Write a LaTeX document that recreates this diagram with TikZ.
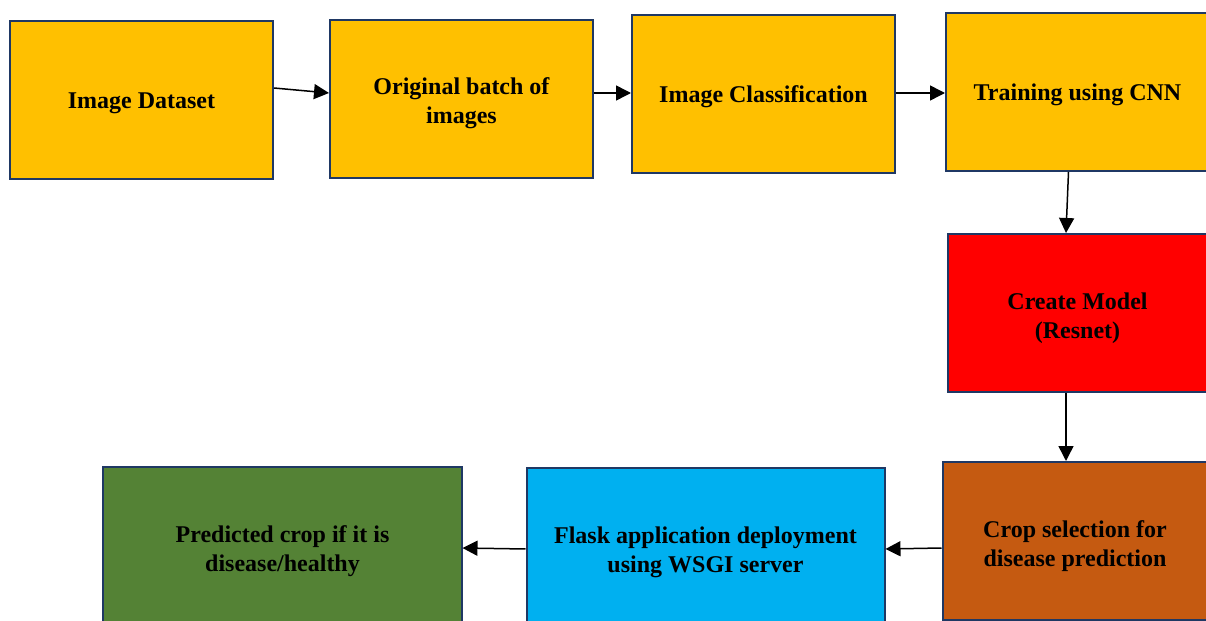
\documentclass[tikz,border=0pt]{standalone}
\usepackage{fontspec}
\setmainfont{Liberation Serif}
\usetikzlibrary{arrows.meta,positioning}

\definecolor{navy}{RGB}{31,56,100}
\definecolor{amber}{RGB}{255,192,0}
\definecolor{rust}{RGB}{197,90,17}
\definecolor{sky}{RGB}{0,176,240}
\definecolor{leaf}{RGB}{84,130,53}

\begin{document}
\begin{tikzpicture}[node distance=28pt]

\tikzstyle{box} = [rectangle, inner sep=0pt, text centered, align=center, text depth=0pt, execute at begin node={\rule{0pt}{9pt}}, draw=navy, line width=1pt, font=\bfseries\fontsize{12}{14.5}\selectfont]
\tikzstyle{twoline} = [execute at begin node={}, text height=25pt]
\tikzstyle{topbox} = [box, minimum width=131.5pt, minimum height=79pt, fill=amber]
\tikzstyle{lowbox} = [box, twoline, text height=23pt, minimum width=179pt, minimum height=81pt]
\tikzstyle{arr} = [-{Triangle[length=7.5pt,width=7.5pt]}, line width=0.75pt]

\useasboundingbox (-70.75pt,50pt) rectangle (532.25pt,-260.5pt);
\clip (-70.75pt,50pt) rectangle (532.25pt,-260.5pt);

\node (data) [topbox] {Image Dataset};
\node (batch) [topbox, twoline, right=27.5pt of data, yshift=0.5pt] {Original batch of\\images};
\node (classif) [topbox, right=18.5pt of batch, yshift=2.5pt] {Image Classification};
\node (train) [topbox, right=24.5pt of classif, yshift=1pt] {Training using CNN};
\node (model) [topbox, twoline, fill=red, below=30.5pt of train, minimum width=130pt] {Create Model\\(Resnet)};
\node (crop) [topbox, twoline, fill=rust, below=34pt of model, xshift=-1.25pt, minimum width=132.5pt] {Crop selection for\\disease prediction};
\node (flask) [lowbox, fill=sky, left=28pt of crop, yshift=-4pt] {Flask application deployment\\using WSGI server};
\node (pred) [lowbox, fill=leaf, left=31.5pt of flask, yshift=0.5pt] {Predicted crop if it is\\disease/healthy};

\draw[arr] ([yshift=6pt]data.east) -- ([yshift=3pt]batch.west);
\draw[arr] ([yshift=3pt]batch.east) -- ([yshift=0.5pt]classif.west);
\draw[arr] ([yshift=0.5pt]classif.east) -- ([yshift=-0.5pt]train.west);
\draw[arr] ([xshift=-4.5pt]train.south) -- ([xshift=-5.75pt]model.north);
\draw[arr] ([xshift=-5.75pt]model.south) -- ([xshift=-4.5pt]crop.north);
\draw[arr] ([yshift=-3.5pt]crop.west) -- (flask.east);
\draw[arr] (flask.west) -- (pred.east);
\end{tikzpicture}
\end{document}
